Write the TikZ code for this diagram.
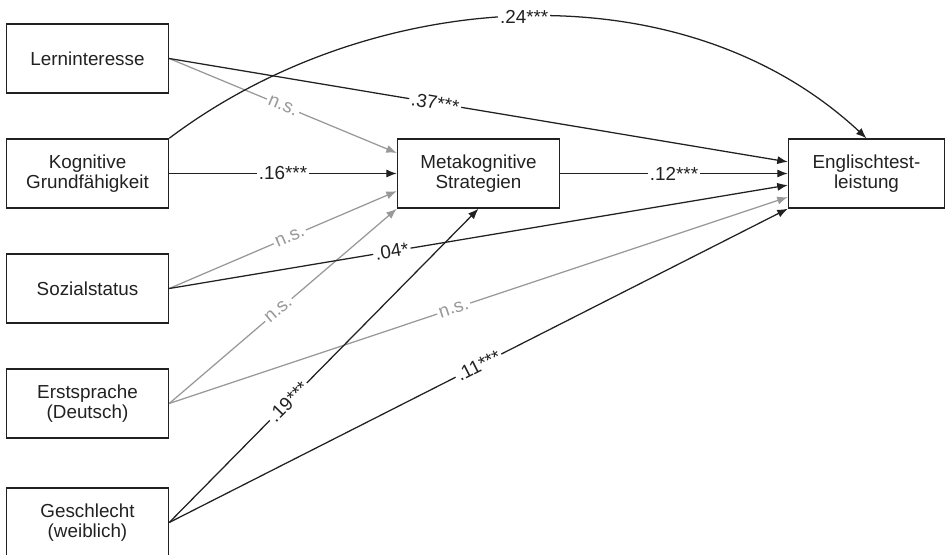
\documentclass[tikz,border=0pt]{standalone}
\usepackage{fontspec}
\setmainfont{Liberation Sans}
\usetikzlibrary{arrows.meta,positioning}
\definecolor{pathblack}{gray}{0.13}
\definecolor{nsgray}{gray}{0.6}

\begin{document}
\begin{tikzpicture}[node distance=2.875cm and 9.775cm,on grid,
    font=\fontsize{13.4}{14.7}\selectfont,text=pathblack,
    var/.style={draw=pathblack,line width=1pt,minimum width=4.05cm,
                minimum height=1.725cm,align=center,inner sep=2pt},
    sig/.style={draw=pathblack,line width=0.9pt,-{Latex[length=7.5pt,width=5.8pt]}},
    ns/.style={draw=nsgray,line width=0.9pt,-{Latex[length=7.5pt,width=5.8pt]}},
    coef/.style={fill=white,inner sep=1.5pt,sloped},
    nscoef/.style={coef,text=nsgray}]
      \useasboundingbox (-2.1875,1.4625) rectangle (21.4625,-12.3875);

      \node[var] (lern)                          {Lerninteresse};
      \node[var] (kog)    [below=of lern]        {Kognitive\\Grundfähigkeit};
      \node[var] (sozial) [below=of kog]         {Sozialstatus};
      \node[var] (erst)   [below=of sozial]      {Erstsprache\\(Deutsch)};
      \node[var] (geschl) [below=2.975cm of erst] {Geschlecht\\(weiblich)};
      \node[var] (meta)   [right=of kog]         {Metakognitive\\Strategien};
      \node[var,minimum width=3.9cm] (engl) [right=9.7cm of meta] {Englischtest-\\leistung};

      % nicht signifikant
      \path
      (lern.east)   edge [ns] node [nscoef,pos=0.5]  {n.s.} ([yshift=0.5125cm]meta.west)
      (sozial.east) edge [ns] node [nscoef,pos=0.53] {n.s.} ([yshift=-0.44cm]meta.west)
      (erst.east)   edge [ns] node [nscoef,pos=0.48] {n.s.} (meta.south west)
      (erst.east)   edge [ns] node [nscoef,pos=0.46] {n.s.} ([yshift=-0.59cm]engl.west);

      % signifikant
      \path
      (lern.east)       edge [sig]              node [coef,pos=0.43]  {.37***} ([yshift=0.29cm]engl.west)
      (kog.east)        edge [sig]              node [coef]           {.16***} (meta.west)
      (kog.north east)  edge [sig, out=37, in=137, looseness=0.93]
                                                node [fill=white,inner sep=1.5pt] {.24***} (engl.north)
      (meta.east)       edge [sig]              node [coef]           {.12***} (engl.west)
      (sozial.east)     edge [sig]              node [coef,pos=0.36]  {.04*} ([yshift=-0.29cm]engl.west)
      (geschl.east)     edge [sig]              node [coef,pos=0.385] {.19***} (meta.south)
      (geschl.east)     edge [sig]              node [coef]           {.11***} (engl.south west);

    \end{tikzpicture}
\end{document}
